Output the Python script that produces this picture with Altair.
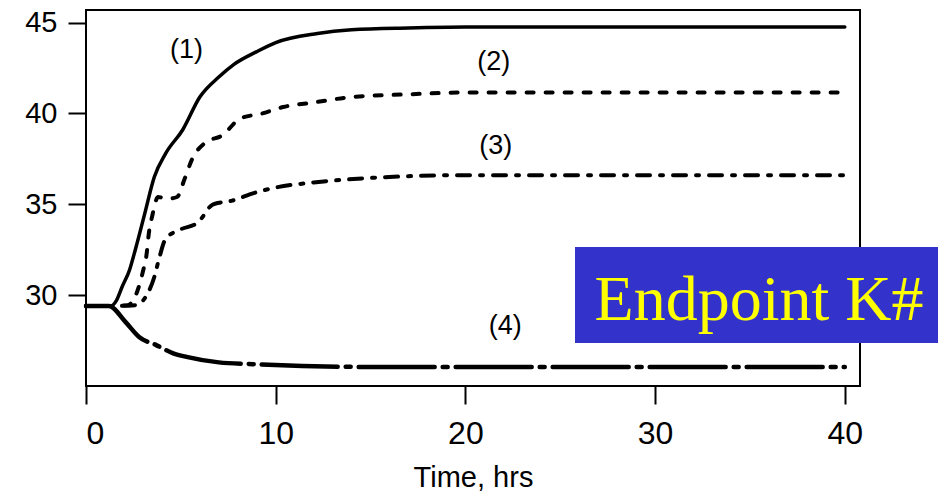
import altair as alt
import pandas as pd

# ---- data ----
t1 = [0, 1.3, 1.6, 1.9, 2.3, 2.6, 3.1, 3.6, 4.2, 5.1, 6.0, 7.0, 7.8, 9.0, 10.0, 12.2, 14, 17, 20, 30, 40]
v1 = [29.4, 29.4, 29.7, 30.45, 31.4, 32.5, 34.5, 36.5, 37.8, 39.1, 40.9, 42.0, 42.7, 43.4, 43.9, 44.4, 44.6, 44.7, 44.75, 44.75, 44.75]

t2 = [0, 1.3, 2.2, 2.7, 3.0, 3.2, 3.3, 3.5, 3.8, 4.3, 4.8, 5.2, 5.6, 6.3, 7.2, 8.1, 9.3, 10.4, 12, 14, 17, 20, 30, 40]
v2 = [29.4, 29.4, 29.45, 30.2, 31.3, 32.3, 33.3, 34.4, 35.4, 35.3, 35.4, 36.4, 37.5, 38.4, 38.8, 39.7, 40.0, 40.35, 40.6, 40.9, 41.05, 41.15, 41.15, 41.15]

t3 = [0, 1.3, 2.6, 3.2, 3.6, 3.85, 4.2, 4.95, 5.9, 6.7, 7.7, 8.8, 9.9, 12, 15, 20, 30, 40]
v3 = [29.4, 29.4, 29.45, 30.0, 31.0, 32.0, 33.1, 33.6, 34.0, 35.0, 35.2, 35.6, 35.9, 36.2, 36.45, 36.6, 36.6, 36.6]

t4 = [0, 1.2, 2.1, 2.8, 3.7, 4.6, 5.3, 7.0, 8.8, 11.4, 15, 20, 30, 40]
v4 = [29.4, 29.4, 28.5, 27.7, 27.25, 26.8, 26.6, 26.3, 26.2, 26.1, 26.05, 26.05, 26.05, 26.05]

label_text = ["(1)", "(2)", "(3)", "(4)"]
label_t = [5.3, 21.5, 21.6, 22.1]
label_v = [43.5, 42.85, 38.2, 28.3]

x_ticks = [0, 10, 20, 30, 40]
y_ticks = [30, 35, 40, 45]
box_text = "Endpoint K#"

FONT = "Liberation Sans"

series = {"1": (t1, v1), "2": (t2, v2), "3": (t3, v3), "4": (t4, v4)}
rows = []
for name, (ts, vs) in series.items():
    for t, v in zip(ts, vs):
        rows.append({"series": name, "t": t, "v": v})
df = pd.DataFrame(rows)

x_scale = alt.Scale(domain=[0, 40.8], nice=False, zero=False)
y_scale = alt.Scale(domain=[25, 45.69], nice=False, zero=False)

x_axis = alt.Axis(values=x_ticks, title="Time, hrs", tickSize=18, tickWidth=2,
                  tickColor="black", domain=False, grid=False, labelFontSize=32,
                  labelFont=FONT, labelColor="black", labelPadding=14,
                  titleFont=FONT, titleFontSize=29, titleFontWeight="normal",
                  titleColor="black", titlePadding=14, format="d")
y_axis = alt.Axis(values=y_ticks, title=None, tickSize=18, tickWidth=2,
                  tickColor="black", domain=False, grid=False, labelFontSize=29,
                  labelFont=FONT, labelColor="black", labelPadding=11, format="d")

styles = {
    "1": dict(strokeWidth=3.5),
    "2": dict(strokeWidth=4, strokeDash=[7, 12]),
    "3": dict(strokeWidth=4, strokeDash=[13, 10, 3, 10]),
    "4": dict(strokeWidth=4.5, strokeDash=[76, 8, 5, 8]),
}

layers = []
for name in ["1", "2", "3", "4"]:
    layers.append(
        alt.Chart(df[df.series == name]).mark_line(
            color="black", interpolate="monotone", strokeCap="round", **styles[name]
        ).encode(
            x=alt.X("t:Q", scale=x_scale, axis=x_axis),
            y=alt.Y("v:Q", scale=y_scale, axis=y_axis),
        )
    )

labels_df = pd.DataFrame({"label": label_text, "t": label_t, "v": label_v})
labels = alt.Chart(labels_df).mark_text(
    font=FONT, fontSize=27, color="black", align="center", baseline="middle"
).encode(
    x=alt.X("t:Q", scale=x_scale),
    y=alt.Y("v:Q", scale=y_scale),
    text="label:N",
)

one = pd.DataFrame({"k": [0]})
box = alt.Chart(one).mark_rect(color="#3333CC", opacity=1).encode(
    x=alt.value(489), x2=alt.value(852), y=alt.value(237), y2=alt.value(333)
)
box_label = alt.Chart(one).mark_text(
    font="Liberation Serif", fontSize=64, color="#FFFF00", align="center",
    baseline="alphabetic"
).encode(x=alt.value(673), y=alt.value(310), text=alt.value(box_text))

chart = alt.layer(*layers, labels, box, box_label).properties(
    width=774, height=376,
    autosize=alt.AutoSizeParams(type="none"),
    padding={"left": 78, "top": 2, "right": 78, "bottom": 105},
).configure(background="white").configure_view(stroke="black", strokeWidth=2)

chart.save("out.html", embed_options={"renderer": "svg", "actions": False})
